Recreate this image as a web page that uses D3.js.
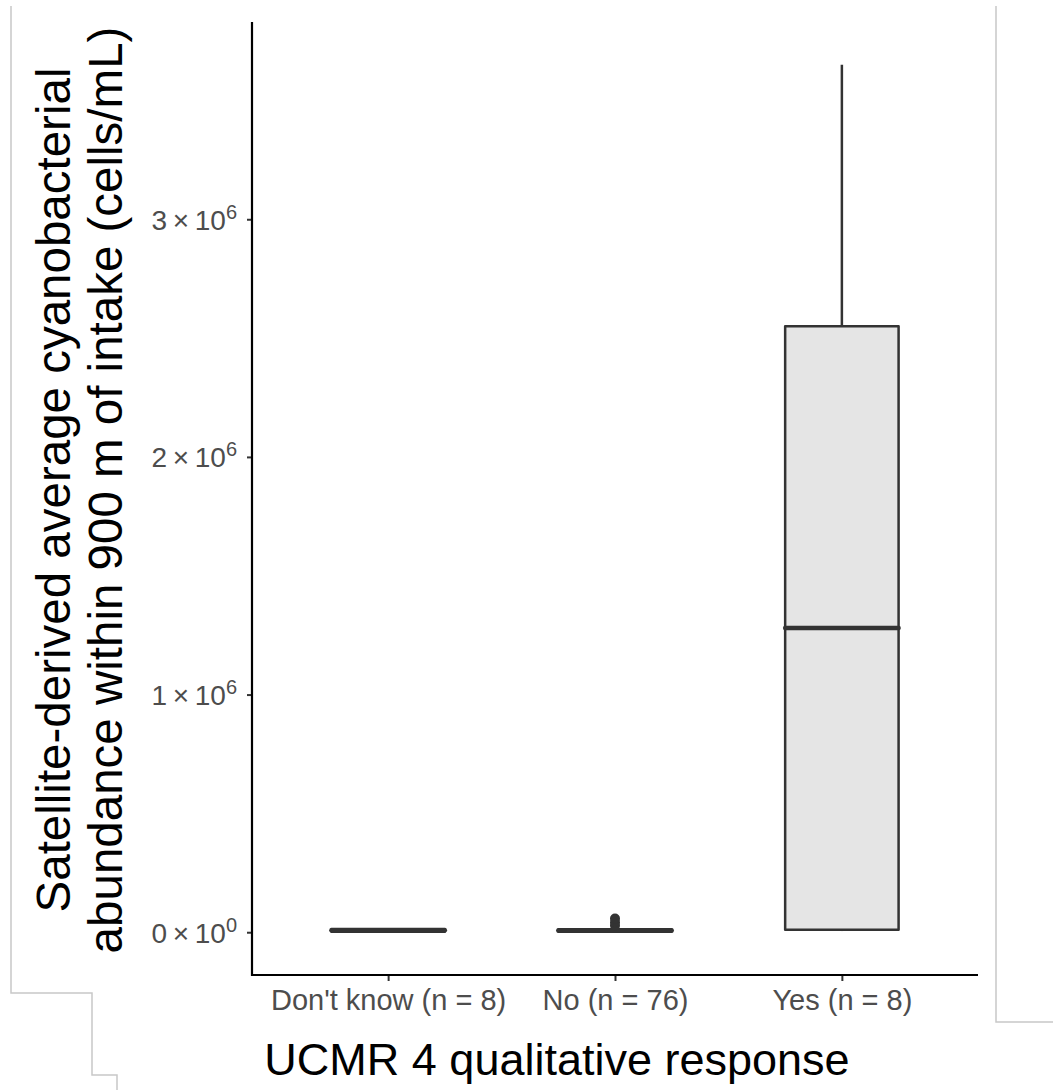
<!DOCTYPE html>
<html lang="en">
<head>
<meta charset="UTF-8">
<title>boxplot</title>
<script src="https://d3js.org/d3.v7.min.js"></script>
<style>
    body { margin: 0; background: #fff; }
    svg { display: block; font-family: "Liberation Sans", Arial, sans-serif; }
</style>
</head>
<body>
<script>
// categories and box stats (cells/mL)
var categories = ["Don't know (n = 8)", "No (n = 76)", "Yes (n = 8)"];
var whiskerLow = [0, 0, 5000];
var q1 = [2000, 2000, 10000];
var median = [8000, 7000, 1280000];
var q3 = [14000, 13000, 2550000];
var whiskerHigh = [16000, 20000, 3650000];
var outliers = [[], [28000, 42000, 58000], []];
var yTicks = [0, 1, 2, 3];   // multiples of 10^6

var width = 1053, height = 1090;
var plotLeft = 252, plotRight = 978, plotTop = 22, plotBottom = 975;

var svg = d3.select("body").append("svg")
    .attr("width", width)
    .attr("height", height);

// faint frame lines from the original figure
var frame = [
    [[11, 6], [11, 993], [92, 993], [92, 1075], [117, 1075], [117, 1090]],
    [[996, 6], [996, 1022], [1053, 1022]]
];
svg.selectAll("path.frame")
    .data(frame)
    .enter().append("path")
    .attr("class", "frame")
    .attr("d", d3.line())
    .attr("fill", "none")
    .attr("stroke", "#c8c8c8")
    .attr("stroke-width", 1.5);

var x = d3.scalePoint()
    .domain(categories)
    .range([plotLeft, plotRight])
    .padding(0.6);

var y = d3.scaleLinear()
    .domain([-180000, 3830000])
    .range([plotBottom, plotTop]);

var boxW = x.step() * 0.5;
var ink = "#333333";

var data = categories.map(function (c, i) {
    return {cat: c, lo: whiskerLow[i], q1: q1[i], med: median[i], q3: q3[i], hi: whiskerHigh[i], out: outliers[i]};
});

var g = svg.append("g");

var box = g.selectAll("g.box")
    .data(data)
    .enter().append("g")
    .attr("class", "box");

// whiskers
box.append("line")
    .attr("x1", function (d) { return x(d.cat); })
    .attr("x2", function (d) { return x(d.cat); })
    .attr("y1", function (d) { return y(d.q3); })
    .attr("y2", function (d) { return y(d.hi); })
    .attr("stroke", ink).attr("stroke-width", 2.5);
box.append("line")
    .attr("x1", function (d) { return x(d.cat); })
    .attr("x2", function (d) { return x(d.cat); })
    .attr("y1", function (d) { return y(d.q1); })
    .attr("y2", function (d) { return y(d.lo); })
    .attr("stroke", ink).attr("stroke-width", 2.5);

box.append("rect")
    .attr("x", function (d) { return x(d.cat) - boxW / 2; })
    .attr("width", boxW)
    .attr("y", function (d) { return y(d.q3); })
    .attr("height", function (d) { return y(d.q1) - y(d.q3); })
    .attr("fill", "#e5e5e5")
    .attr("stroke", ink)
    .attr("stroke-width", 2.5)
    .attr("stroke-linejoin", "round");

box.append("line")
    .attr("x1", function (d) { return x(d.cat) - boxW / 2; })
    .attr("x2", function (d) { return x(d.cat) + boxW / 2; })
    .attr("y1", function (d) { return y(d.med); })
    .attr("y2", function (d) { return y(d.med); })
    .attr("stroke", ink).attr("stroke-width", 4.5)
    .attr("stroke-linecap", "round");

box.selectAll("circle")
    .data(function (d) { return d.out.map(function (v) { return {cat: d.cat, v: v}; }); })
    .enter().append("circle")
    .attr("cx", function (d) { return x(d.cat); })
    .attr("cy", function (d) { return y(d.v); })
    .attr("r", 5)
    .attr("fill", ink);

// axes
var yAxis = d3.axisLeft(y)
    .tickValues(yTicks.map(function (t) { return t * 1e6; }))
    .tickSize(5)
    .tickFormat("");
var ya = svg.append("g")
    .attr("transform", "translate(" + plotLeft + ",0)")
    .call(yAxis);
ya.select(".domain").remove();
ya.selectAll(".tick line").attr("stroke", ink).attr("stroke-width", 2);

ya.selectAll(".tick").each(function (d, i) {
    var t = d3.select(this).append("text")
        .attr("x", -15)
        .attr("y", 10)
        .attr("text-anchor", "end")
        .attr("fill", "#4d4d4d")
        .style("font-size", "28px");
    t.append("tspan").text(yTicks[i] + "\u2009\u00d7\u200910");
    t.append("tspan").text(yTicks[i] === 0 ? "0" : "6")
        .attr("dy", "-0.55em")
        .style("font-size", "20px");
});

var xAxis = d3.axisBottom(x).tickSize(6).tickPadding(8);
var xa = svg.append("g")
    .attr("transform", "translate(0," + plotBottom + ")")
    .call(xAxis);
xa.select(".domain").remove();
xa.selectAll(".tick line").attr("stroke", ink).attr("stroke-width", 2);
xa.selectAll(".tick text")
    .attr("fill", "#4d4d4d")
    .style("font-size", "29px")
    .style("font-family", "'Liberation Sans', Arial, sans-serif");

// axis lines
svg.append("path")
    .attr("d", "M" + plotLeft + "," + plotTop + "V" + plotBottom + "H" + plotRight)
    .attr("fill", "none")
    .attr("stroke", "#000")
    .attr("stroke-width", 2.2);

// titles
svg.append("text")
    .attr("x", 557)
    .attr("y", 1075)
    .attr("text-anchor", "middle")
    .style("font-size", "45px")
    .text("UCMR 4 qualitative response");

var yt = svg.append("text")
    .attr("transform", "translate(0,490) rotate(-90)")
    .attr("text-anchor", "middle")
    .style("font-size", "47.5px");
yt.append("tspan").attr("x", 0).attr("y", 70).text("Satellite-derived average cyanobacterial");
yt.append("tspan").attr("x", 0).attr("y", 122).text("abundance within 900 m of intake (cells/mL)");
</script>
</body>
</html>
